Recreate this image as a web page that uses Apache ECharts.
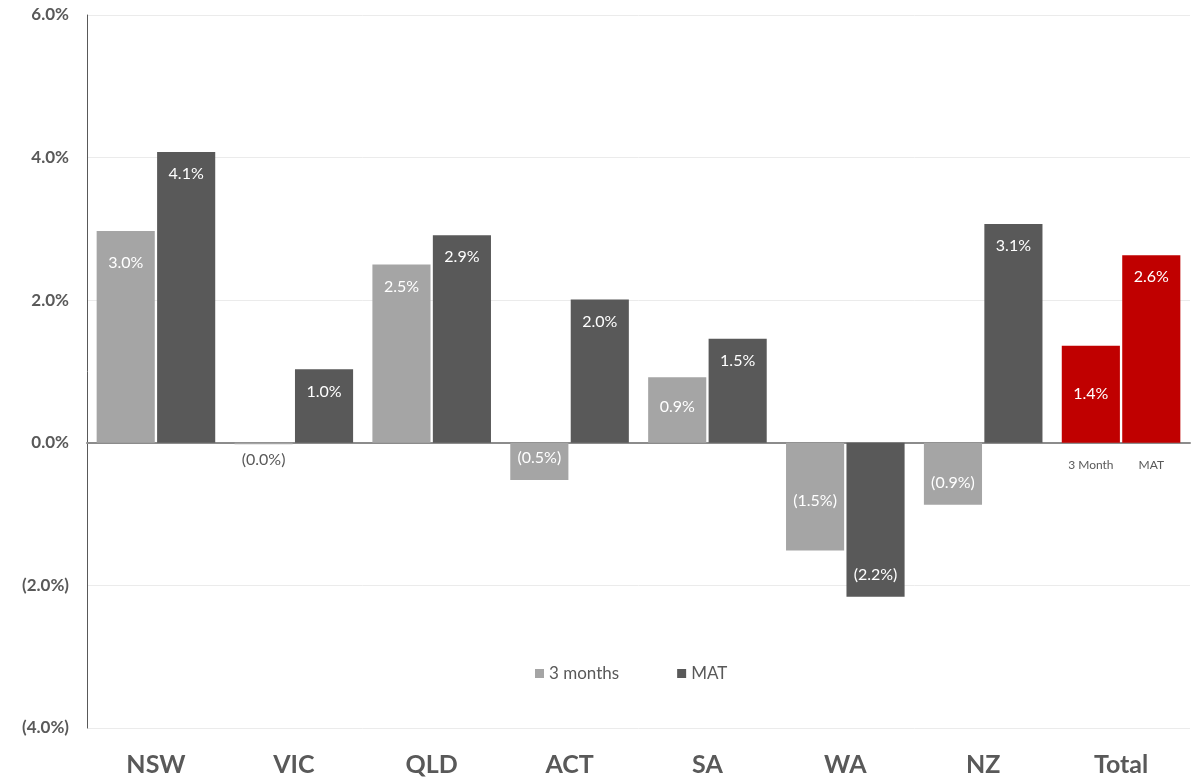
<!DOCTYPE html>
<html>
<head>
<meta charset="UTF-8">
<title>Growth by region</title>
<script src="https://cdn.jsdelivr.net/npm/echarts@6/dist/echarts.min.js"></script>
<style>
html,body{margin:0;height:100%;width:100%;background:#fff;}
#chart{width:1202px;height:778px;}
</style>
</head>
<body>
<div id="chart"></div>
<script>
var categories = ['NSW', 'VIC', 'QLD', 'ACT', 'SA', 'WA', 'NZ', 'Total'];
var threeMonths = [2.97, -0.02, 2.50, -0.52, 0.92, -1.51, -0.87, 1.36];
var mat = [4.08, 1.03, 2.91, 2.01, 1.46, -2.16, 3.07, 2.63];
var totalLabels = ['3 Month', 'MAT'];

var FONT = 'Lato, "Open Sans", sans-serif';
var GREY_TEXT = '#595959';

function pct(v) {
    var s = Math.abs(v).toFixed(1) + '%';
    return v < 0 ? '(' + s + ')' : s;
}

// per-bar label placement, roughly as in the original
function buildData(values, seriesIdx) {
    return values.map(function (v, i) {
        var item = {value: v};
        var label = {
            position: v < 0 ? 'insideBottom' : 'insideTop',
            distance: 14
        };
        if (Math.abs(v) < 0.05) {
            label.position = 'bottom';
            label.distance = 8;
            label.color = GREY_TEXT;
        }
        if (categories[i] === 'Total') {
            item.itemStyle = {color: '#c00000'};
            if (seriesIdx === 0) { label.position = 'inside'; }
        }
        if (categories[i] === 'WA' && seriesIdx === 0) { label.distance = 42; }
        if (categories[i] === 'NSW' && seriesIdx === 0) { label.distance = 24; }
        if (categories[i] === 'SA' && seriesIdx === 0) { label.distance = 22; }
        item.label = label;
        return item;
    });
}

// small "3 Month" / "MAT" captions under the Total bars
function totalMark(text) {
    return {
        symbol: 'rect',
        symbolSize: 1,
        silent: true,
        itemStyle: {color: 'rgba(0,0,0,0)'},
        label: {show: true, position: 'bottom', distance: 16, formatter: text,
                color: GREY_TEXT, fontSize: 12, fontFamily: FONT},
        data: [{coord: [categories.length - 1, 0], value: 0}]
    };
}

var chart = echarts.init(document.getElementById('chart'));

chart.setOption({
    animation: false,
    grid: {left: 87, right: 12, top: 15, bottom: 50, containLabel: false},
    legend: {
        left: 530,
        top: 660,
        itemWidth: 9,
        itemHeight: 9,
        itemGap: 58,
        icon: 'rect',
        textStyle: {color: GREY_TEXT, fontSize: 17, fontFamily: FONT},
        data: ['3 months', 'MAT']
    },
    xAxis: [{
        type: 'category',
        data: categories,
        axisLine: {onZero: true, lineStyle: {color: '#8c8c8c', width: 2}},
        axisTick: {show: false},
        axisLabel: {show: false}
    }, {
        type: 'category',
        data: categories,
        position: 'bottom',
        axisLine: {show: false, onZero: false},
        axisTick: {show: false},
        axisLabel: {color: GREY_TEXT, fontSize: 25, fontWeight: 'bold', fontFamily: FONT, margin: 24}
    }],
    yAxis: {
        type: 'value',
        min: -4,
        max: 6,
        interval: 2,
        axisLine: {show: true, lineStyle: {color: '#595959', width: 1}},
        axisTick: {show: false},
        splitLine: {lineStyle: {color: '#ebebeb', width: 1}},
        axisLabel: {
            formatter: pct, color: GREY_TEXT, fontSize: 17, fontWeight: 'bold',
            fontFamily: FONT, margin: 18
        }
    },
    series: [{
        name: '3 months',
        type: 'bar',
        barCategoryGap: '14%',
        barGap: '4%',
        itemStyle: {color: '#a5a5a5'},
        label: {show: true, formatter: function (p) { return pct(p.value); },
                color: '#fff', fontSize: 16, fontFamily: FONT},
        data: buildData(threeMonths, 0),
        markPoint: totalMark(totalLabels[0])
    }, {
        name: 'MAT',
        type: 'bar',
        barCategoryGap: '14%',
        barGap: '4%',
        itemStyle: {color: '#595959'},
        label: {show: true, formatter: function (p) { return pct(p.value); },
                color: '#fff', fontSize: 16, fontFamily: FONT},
        data: buildData(mat, 1),
        markPoint: totalMark(totalLabels[1])
    }]
});
</script>
</body>
</html>
